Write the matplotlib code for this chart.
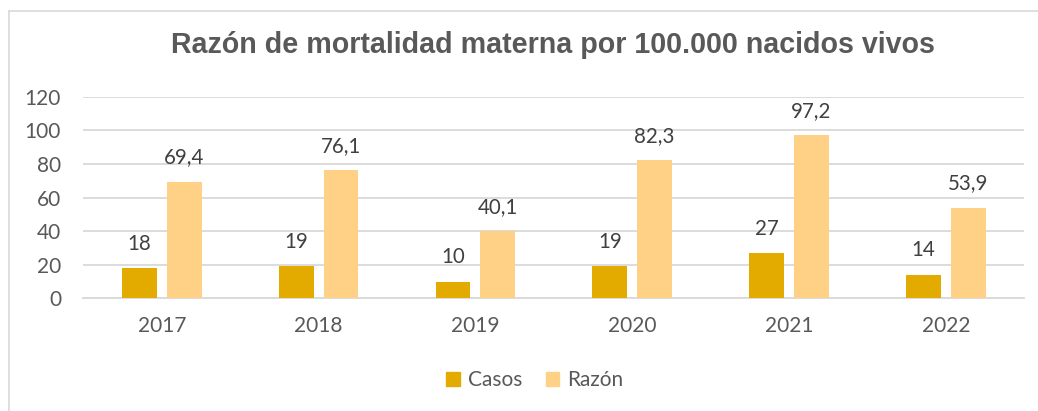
import matplotlib.pyplot as plt
import numpy as np
from matplotlib.patches import Patch
from matplotlib.lines import Line2D

YEARS = ["2017", "2018", "2019", "2020", "2021", "2022"]
CASOS = [18, 19, 10, 19, 27, 14]
RAZON = [69.4, 76.1, 40.1, 82.3, 97.2, 53.9]
SERIES_NAMES = ["Casos", "Razón"]
TITLE = "Razón de mortalidad materna por 100.000 nacidos vivos"

C_CASOS = "#E3AA00"
C_RAZON = "#FFD187"
TICK_COLOR = "#595959"
LABEL_COLOR = "#404040"
GRID_COLOR = "#D9D9D9"
FONT = ["Lato", "DejaVu Sans"]


def fmt(v):
    if float(v).is_integer():
        return f"{int(v)}"
    return f"{v:.1f}".replace(".", ",")


fig = plt.figure(figsize=(10.38, 4.11), dpi=100)
ax = fig.add_axes([0.0803, 0.2742, 0.9065, 0.4905])

# chart frame: only left and top edges are visible in the crop
fig.add_artist(Line2D([8.5 / 1038, 8.5 / 1038], [0, 1 - 11 / 411], color=GRID_COLOR, lw=1.2))
fig.add_artist(Line2D([8.5 / 1038, 1], [1 - 11 / 411, 1 - 11 / 411], color=GRID_COLOR, lw=1.2))

x = np.arange(len(YEARS))
width = 0.223
off = 0.143
bars_c = ax.bar(x - off, CASOS, width, color=C_CASOS, zorder=3)
bars_r = ax.bar(x + off, RAZON, width, color=C_RAZON, zorder=3)

for bars, vals in ((bars_c, CASOS), (bars_r, RAZON)):
    for b, v in zip(bars, vals):
        ax.annotate(fmt(v), (b.get_x() + b.get_width() / 2, v),
                    xytext=(0, 17.5), textcoords="offset points",
                    ha="center", va="center", fontsize=14.8,
                    color=LABEL_COLOR, family=FONT)

ax.set_xlim(-0.5, len(YEARS) - 0.5)
ax.set_ylim(0, 120)
ax.set_yticks(range(0, 121, 20))
ax.set_xticks(x)
ax.set_xticklabels(YEARS)
ax.tick_params(axis="both", length=0, labelsize=15, labelcolor=TICK_COLOR)
ax.tick_params(axis="y", pad=16)
ax.tick_params(axis="x", pad=13)
for lab in ax.get_xticklabels() + ax.get_yticklabels():
    lab.set_family(FONT)
ax.grid(axis="y", color=GRID_COLOR, lw=1.3, zorder=0)
for s in ("top", "right", "left"):
    ax.spines[s].set_visible(False)
ax.spines["bottom"].set_color(GRID_COLOR)
ax.spines["bottom"].set_linewidth(1.3)

fig.text(553 / 1038, 1 - 45 / 411, TITLE, ha="center", va="center", fontsize=20.6,
         fontweight="bold", color=TICK_COLOR, family=["Liberation Sans", "DejaVu Sans"])

handles = [Patch(color=C_CASOS), Patch(color=C_RAZON)]
leg = fig.legend(handles, SERIES_NAMES, loc="center", bbox_to_anchor=(535 / 1038, 1 - 380 / 411),
                 ncol=2, frameon=False, handlelength=0.65, handleheight=0.65,
                 handletextpad=0.4, columnspacing=1.1, prop={"family": FONT, "size": 15})
for t in leg.get_texts():
    t.set_color(TICK_COLOR)

fig.savefig("out.png", dpi=100)
